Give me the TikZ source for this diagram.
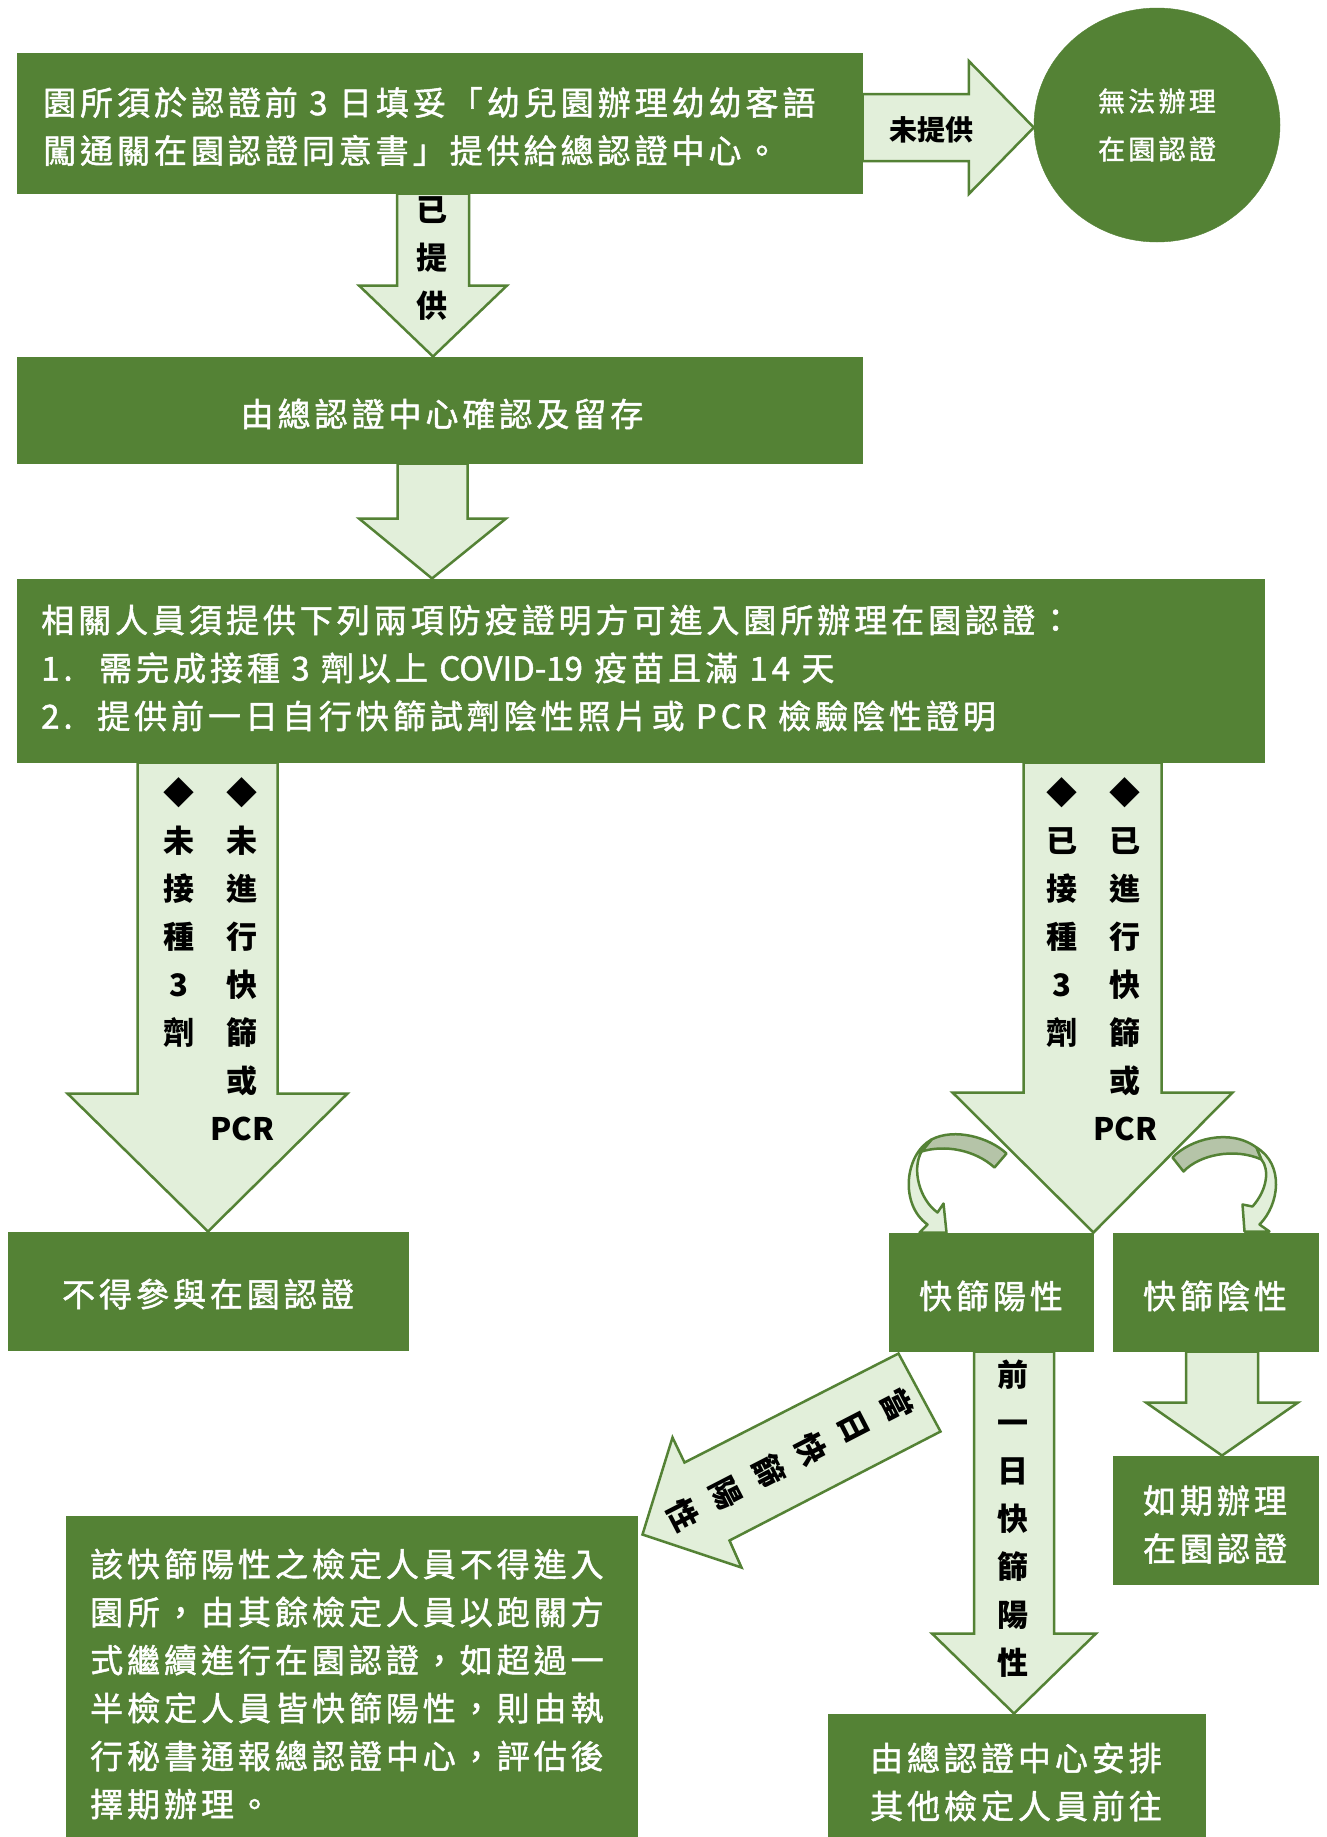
\documentclass[tikz,border=0pt]{standalone}
\usepackage{fontspec}
\setmainfont{Noto Sans CJK TC}
\newfontfamily\wfont[LetterSpace=12,FakeBold=1.5]{Noto Sans CJK TC}
\newfontfamily\wfontn[FakeBold=1.5]{Noto Sans CJK TC}
\newfontfamily\lfont{Noto Sans CJK TC}
\usetikzlibrary{calc,shapes.geometric}
\definecolor{dg}{RGB}{84,130,53}
\definecolor{lg}{RGB}{226,239,218}
\definecolor{gg}{RGB}{181,196,168}
% down block arrow: #1 tail, #2 tip, #3 shaft half width, #4 head half width, #5 head length
\newcommand{\dnarrow}[5]{%
  \draw[arr] ($(#1)+(-#3,0)$) -- ($(#1|-#2)+(-#3,-#5)$) -- ($(#1|-#2)+(-#4,-#5)$) -- (#2) -- ($(#1|-#2)+(#4,-#5)$) -- ($(#1|-#2)+(#3,-#5)$) -- ($(#1)+(#3,0)$) -- cycle;}
% right block arrow
\newcommand{\rtarrow}[5]{%
  \draw[arr] ($(#1)+(0,-#3)$) -- ($(#2|-#1)+(-#5,-#3)$) -- ($(#2|-#1)+(-#5,-#4)$) -- (#2) -- ($(#2|-#1)+(-#5,#4)$) -- ($(#2|-#1)+(-#5,#3)$) -- ($(#1)+(0,#3)$) -- cycle;}
\begin{document}
\begin{tikzpicture}[x=1pt,y=-1pt,
  gbox/.style={rectangle, fill=dg, draw=dg, line width=1pt, inner sep=0pt},
  arr/.style={fill=lg, draw=dg, line width=2.5pt, line join=miter, miter limit=10},
  arrback/.style={fill=gg, draw=dg, line width=2.5pt, line join=round},
  wt/.style={text=white, inner sep=0pt, align=left, font=\wfont\fontsize{33}{48}\selectfont},
  wtc/.style={wt, align=center},
  lb/.style={text=black, inner sep=0pt, align=center, font=\lfont\bfseries\fontsize{31}{48}\selectfont}]

\useasboundingbox (0,0) rectangle (1326,1837);
\clip (0,0) rectangle (1326,1837);
\fill[white] (0,0) rectangle (1326,1837);

% ---------- boxes ----------
\node[gbox, minimum width=845, minimum height=140] (b1) at (439.5,123) {};
\node[ellipse, fill=dg, draw=dg, minimum width=246, minimum height=234, inner sep=0pt,
      text=white, align=center, font=\wfont\fontsize{27}{48}\selectfont] (el) at (1157,125) {無法辦理\\在園認證};
\node[gbox, minimum width=845, minimum height=106] (b2) at (439.5,410) {};
\node[gbox, minimum width=1247, minimum height=183] (b3) at (640.5,670.5) {};
\node[gbox, minimum width=400, minimum height=118] (b4) at (208,1291) {};
\node[gbox, minimum width=204, minimum height=118] (b5) at (991,1292) {};
\node[gbox, minimum width=205, minimum height=118] (b6) at (1215.5,1292) {};
\node[gbox, minimum width=205, minimum height=128] (b7) at (1215.5,1520) {};
\node[gbox, minimum width=377, minimum height=132] (b8) at (1016.5,1780) {};
\node[gbox, minimum width=571, minimum height=330] (b9) at (351.5,1681) {};

% ---------- box texts ----------
\node[wt, anchor=west] (b1t) at (43,126.5) {園所須於認證前 3 日填妥「幼兒園辦理幼幼客語\\闖通關在園認證同意書」提供給總認證中心。};
\node[wtc] (b2t) at (442,414) {由總認證中心確認及留存};
\node[wt, anchor=west] (b3t) at (41,668) {相關人員須提供下列兩項防疫證明方可進入園所辦理在園認證：\\\makebox[58pt][l]{1.}需完成接種 3 劑以上 {\wfontn COVID-19} 疫苗且滿 14 天\\\makebox[56pt][l]{2.}提供前一日自行快篩試劑陰性照片或 PCR 檢驗陰性證明};
\node[wtc] (b4t) at (208,1294) {不得參與在園認證};
\node[wtc] (b5t) at (991,1296) {快篩陽性};
\node[wtc] (b6t) at (1215,1296) {快篩陰性};
\node[wtc] (b7t) at (1215,1524.5) {如期辦理\\在園認證};
\node[wtc] (b8t) at (1016,1782) {由總認證中心安排\\其他檢定人員前往};
\node[wt, anchor=west] (b9t) at (90,1684) {該快篩陽性之檢定人員不得進入\\園所，由其餘檢定人員以跑關方\\式繼續進行在園認證，如超過一\\半檢定人員皆快篩陽性，則由執\\行秘書通報總認證中心，評估後\\擇期辦理。};

% ---------- curved arrows ----------
\begin{scope}[shift={(b5.north west)}]
  \draw[arrback] (118,-79) .. controls (101,-95) and (66,-105) .. (43,-93) -- (33,-81)
     .. controls (56,-88) and (86,-83) .. (106,-65) -- cycle;
  \draw[arr, line join=round] (43,-93) .. controls (16,-78) and (11,-28) .. (39,-8) -- (31,0) -- (58,0) -- (55,-29) -- (49,-20)
     .. controls (31,-33) and (23,-63) .. (33,-81) -- cycle;
\end{scope}
\begin{scope}[shift={(b6.north west)}]
  \draw[arrback] (60,-75) .. controls (77,-93) and (117,-105) .. (144,-85) -- (149,-73)
     .. controls (122,-85) and (87,-78) .. (71,-61) -- cycle;
  \draw[arr, line join=round] (144,-85) .. controls (172,-68) and (167,-28) .. (147,-8) -- (157,-1) -- (132,-1) -- (130,-28) -- (140,-26)
     .. controls (155,-43) and (157,-63) .. (149,-73) -- cycle;
\end{scope}

% ---------- block arrows ----------
\coordinate (raT) at ($(b1.east)+(0,4.5)$);
\coordinate (raP) at (el.west |- raT);
\rtarrow{raT}{raP}{33.5}{66.5}{65}

\coordinate (a1T) at ($(b1.south)+(-6.5,0)$);
\coordinate (a1P) at ($(b2.north)+(-6.5,0)$);
\dnarrow{a1T}{a1P}{36}{74}{71}

\coordinate (a2T) at ($(b2.south)+(-7,0)$);
\coordinate (a2P) at ($(b3.north west)+(415.5,0)$);
\dnarrow{a2T}{a2P}{35}{73.5}{60}

\coordinate (a3T) at ($(b3.south west)+(191,0)$);
\coordinate (a3P) at (b4.north);
\dnarrow{a3T}{a3P}{70}{140}{138}

\coordinate (a4T) at ($(b3.south west)+(1076,0)$);
\coordinate (a4P) at (b5.north east);
\dnarrow{a4T}{a4P}{69}{140}{140}

\coordinate (a5T) at ($(b6.south)+(6.5,0)$);
\coordinate (a5P) at ($(b7.north)+(6.5,0)$);
\dnarrow{a5T}{a5P}{36}{76}{53}

\coordinate (a6T) at ($(b5.south)+(23,0)$);
\coordinate (a6P) at ($(b8.north)+(-2.5,0)$);
\dnarrow{a6T}{a6P}{40}{82}{80}

% diagonal arrow from b5 toward b9
\begin{scope}[shift={(b5.south west)}]
  \draw[arr] (10,2) -- (-204,111) -- (-216,86) -- (-246,183) -- (-147,216) -- (-159,189) -- (52,80) -- cycle;
\end{scope}

% ---------- arrow labels ----------
\node[lb, font=\lfont\bfseries\fontsize{28}{48}\selectfont] (lra) at (931,130) {未提供};
\node[lb] (la1) at (432,259) {已\\提\\供};
\node[lb] (ll1) at (179,912.5) {◆\\未\\接\\種\\3\\劑};
\node[lb] (ll2) at (242,959) {◆\\未\\進\\行\\快\\篩\\或\\PCR};
\node[lb] (lr1) at (1062,912.5) {◆\\已\\接\\種\\3\\劑};
\node[lb] (lr2) at (1125,959) {◆\\已\\進\\行\\快\\篩\\或\\PCR};
\node[lb] (ld) at (1013,1518.5) {前\\一\\日\\快\\篩\\陽\\性};
\node[lb, rotate=-62.7] (ldg) at (790,1460) {當\\日\\快\\篩\\陽\\性};
\end{tikzpicture}
\end{document}
